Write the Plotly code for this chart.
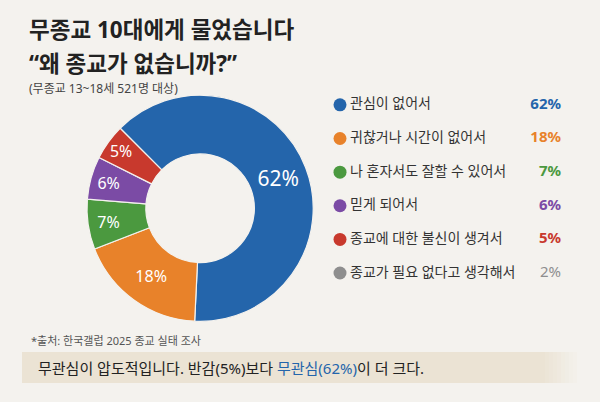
import plotly.graph_objects as go

# data
reasons = ["관심이 없어서", "귀찮거나 시간이 없어서", "나 혼자서도 잘할 수 있어서",
           "믿게 되어서", "종교에 대한 불신이 생겨서", "종교가 필요 없다고 생각해서"]
shares = [62, 18, 7, 6, 5, 2]
colors = ["#2465ab", "#e8822a", "#4b993f", "#7b4ba5", "#c8392d", "#8e8e8e"]

# the donut in the picture shows only the first five slices
n_pie = 5

font = "Noto Sans, Noto Sans CJK KR, sans-serif"
bg = "#f4f2ee"

fig = go.Figure()

fig.add_trace(go.Pie(
    values=shares[:n_pie], labels=reasons[:n_pie],
    marker=dict(colors=colors[:n_pie], line=dict(color="#f4f2ee", width=1.2)),
    hole=0.48, sort=False, direction="clockwise", rotation=-45,
    text=[f"{v}%" for v in shares[:n_pie]], textinfo="text",
    textposition="inside", insidetextorientation="horizontal",
    textfont=dict(family=font, color="white", size=[21, 16, 16, 16, 16]),
    domain=dict(x=[0.145, 0.522], y=[0.2, 0.764]),
    showlegend=False, hoverinfo="label+value",
))

# legend drawn as its own little chart on the right
fig.add_trace(go.Scatter(
    x=[340] * len(reasons), y=reasons, mode="markers",
    marker=dict(color=colors, size=13), xaxis="x2", yaxis="y2",
    showlegend=False, hoverinfo="skip",
))
fig.add_trace(go.Scatter(
    x=[350] * len(reasons), y=reasons, mode="text", text=reasons,
    textposition="middle right",
    textfont=dict(family=font, size=14, color="#333333"),
    xaxis="x2", yaxis="y2", showlegend=False, hoverinfo="skip",
))
fig.add_trace(go.Scatter(
    x=[561] * len(reasons), y=reasons, mode="text",
    text=[f"<b>{v}%</b>" for v in shares[:-1]] + [f"{shares[-1]}%"],
    textposition="middle left",
    textfont=dict(family=font, size=15, color=colors),
    xaxis="x2", yaxis="y2", showlegend=False, hoverinfo="skip",
))

# bottom note box with a soft fade on the right
shapes = [dict(type="rect", xref="paper", yref="paper", x0=22 / 600, x1=545 / 600,
               y0=(402 - 383) / 402, y1=(402 - 352) / 402,
               fillcolor="#ebe3d4", line=dict(width=0), layer="below")]
for i in range(8):
    shapes.append(dict(type="rect", xref="paper", yref="paper",
                       x0=(545 + i * 4) / 600, x1=(549 + i * 4) / 600,
                       y0=(402 - 383) / 402, y1=(402 - 352) / 402,
                       fillcolor="#ebe3d4", opacity=1 - (i + 1) / 9,
                       line=dict(width=0), layer="below"))

annotations = [
    dict(text="<b>무종교 10대에게 물었습니다</b>", x=27 / 600, y=1 - 30 / 402,
         font=dict(family=font, size=22.5, color="#222222")),
    dict(text="<b>“왜 종교가 없습니까?”</b>", x=27 / 600, y=1 - 63 / 402,
         font=dict(family=font, size=22.5, color="#222222")),
    dict(text="(무종교 13~18세 521명 대상)", x=27 / 600, y=1 - 89 / 402,
         font=dict(family=font, size=12, color="#444444")),
    dict(text="*출처: 한국갤럽 2025 종교 실태 조사", x=29 / 600, y=1 - 340 / 402,
         font=dict(family=font, size=11, color="#555555")),
    dict(text="무관심이 압도적입니다. 반감(5%)보다 "
              "<span style='color:#2465ab'>무관심(62%)</span>이 더 크다.",
         x=36 / 600, y=1 - 368 / 402,
         font=dict(family=font, size=15, color="#222222")),
]
for a in annotations:
    a.update(xref="paper", yref="paper", xanchor="left", yanchor="middle",
             showarrow=False)

fig.update_layout(
    width=600, height=402,
    margin=dict(l=0, r=0, t=0, b=0),
    paper_bgcolor=bg, plot_bgcolor=bg,
    xaxis2=dict(domain=[0, 1], range=[0, 600], visible=False, fixedrange=True),
    yaxis2=dict(domain=[0.279, 0.781], range=[5.5, -0.5], type="category",
                categoryorder="array", categoryarray=reasons,
                visible=False, fixedrange=True),
    shapes=shapes, annotations=annotations,
)

# drop the browser's default page margin so the figure sits at the corner
fig.write_html("out.html", config={"displayModeBar": False},
               post_script="document.body.style.margin='0';")
